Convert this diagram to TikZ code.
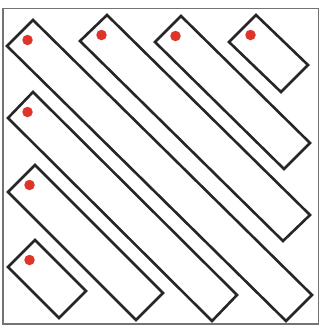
\documentclass[tikz,border=0pt]{standalone}
\usepackage{tikz}
\usetikzlibrary{calc}

\definecolor{pinred}{RGB}{222,52,42}

\begin{document}
\begin{tikzpicture}[
    x=1pt, y=-1pt,
    frame/.style={draw=black!55, line width=1.3pt},
    bar/.style={draw=black!85, line width=2.6pt, line join=miter},
    pin/.style={circle, fill=pinred, draw=none, inner sep=0pt, minimum size=10.5pt}
]
\useasboundingbox (0,0) rectangle (321,327);

% outer frame
\draw[frame] (3,8.5) rectangle (318.5,324);

% diagonal bars: left corner / top corner / right corner, pin placed near top corner
\foreach \name/\lx/\ly/\tx/\ty/\rx/\ry in {
    a/7/46/33/20/312/295,
    b/80/41/107/15/310/215,
    c/155/42/181/16/310/143,
    d/229/42/256/15/308/65,
    e/8/118/33/92/237/295,
    f/8/192/35/165/163/293,
    g/8/267/35/240/86/291}
{
  \coordinate (\name-l) at (\lx,\ly);
  \coordinate (\name-t) at (\tx,\ty);
  \coordinate (\name-r) at (\rx,\ry);
  \coordinate (\name-b) at ($(\name-l)+(\name-r)-(\name-t)$);
  \draw[bar] (\name-l) -- (\name-t) -- (\name-r) -- (\name-b) -- cycle;
  \node[pin] (\name-pin) at ($(\name-t)+(-5.5,20)$) {};
}

\end{tikzpicture}
\end{document}
